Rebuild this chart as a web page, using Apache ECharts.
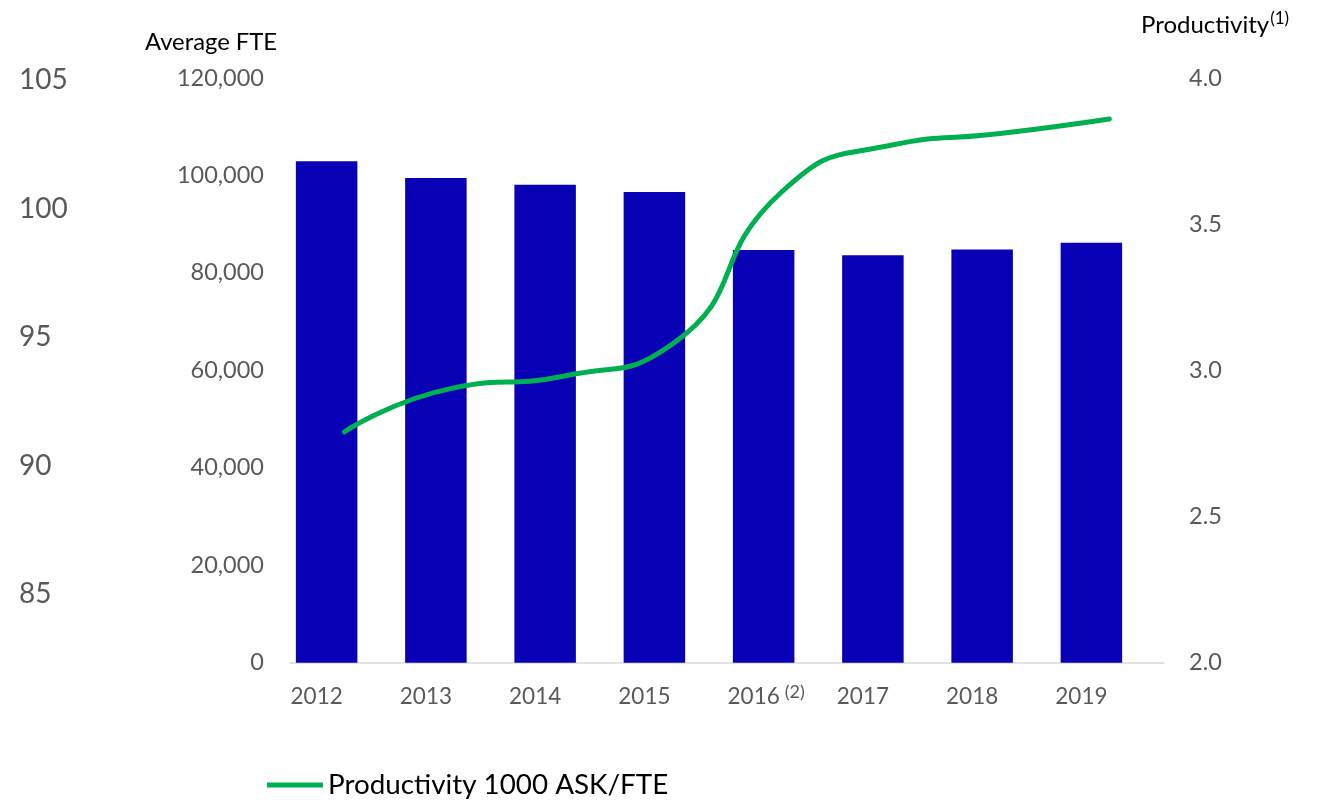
<!DOCTYPE html>
<html>
<head>
<meta charset="utf-8">
<script src="https://cdn.jsdelivr.net/npm/echarts@6/dist/echarts.min.js"></script>
<style>
  html, body { margin: 0; padding: 0; background: #fff; }
  #chart { width: 1321px; height: 800px; }
</style>
</head>
<body>
<div id="chart"></div>
<script>
// Years on the category axis (2016 carries footnote (2))
const years = ['2012', '2013', '2014', '2015', '2016', '2017', '2018', '2019'];
const footnoteYear = '2016';
// Average FTE per year (bars, left axis)
const averageFTE = [102900, 99500, 98100, 96600, 84700, 83600, 84800, 86200];
// Productivity, thousand ASK per FTE (line, right axis)
const productivity = [2.79, 2.94, 2.98, 3.09, 3.61, 3.77, 3.81, 3.86];
// Separate index scale shown at the far left
const indexTicks = [85, 90, 95, 100, 105];

const FONT = 'Lato, "Open Sans", sans-serif';
const GRAY = '#595959';
const BAR = '#0700B5';
const GREEN = '#00B050';

const chart = echarts.init(document.getElementById('chart'));

chart.setOption({
  animation: false,
  textStyle: { fontFamily: FONT },
  grid: [
    { left: 290, right: 157, top: 78, bottom: 137.3 },
    { left: 69, width: 1, top: 80, height: 514 }
  ],
  legend: {
    data: ['Productivity 1000 ASK/FTE'],
    left: 262, top: 766,
    itemWidth: 56, itemHeight: 14, itemGap: 10,
    icon: 'path://M0,0 L56,0 L56,5 L0,5 Z',
    textStyle: { fontFamily: FONT, fontSize: 27.8, color: '#000' }
  },
  xAxis: [
    {
      type: 'category', gridIndex: 0, data: years,
      axisLine: { lineStyle: { color: '#D9D9D9', width: 1.5 } },
      axisTick: { show: false },
      axisLabel: {
        interval: 0,
        margin: 20,
        formatter: function (v) {
          if (v === footnoteYear) return '{t|' + v + '}{s|(2)}{sp2| }';
          return '{t|' + v + '}{sp| }';
        },
        rich: {
          t: { fontFamily: FONT, fontSize: 22.5, color: GRAY, lineHeight: 28 },
          s: { fontFamily: FONT, fontSize: 18, color: GRAY, width: 30, lineHeight: 8, verticalAlign: 'top', padding: [0, 0, 0, 0] },
          sp: { width: 56, lineHeight: 28 },
          sp2: { width: 26, lineHeight: 28 }
        }
      }
    },
    { type: 'value', gridIndex: 1, show: false }
  ],
  yAxis: [
    {
      type: 'value', gridIndex: 0, position: 'left',
      min: 0, max: 120000, interval: 20000,
      axisLine: { show: false }, axisTick: { show: false },
      splitLine: { show: false },
      axisLabel: { margin: 26, fontSize: 23.5, color: GRAY, fontFamily: FONT }
    },
    {
      type: 'value', gridIndex: 0, position: 'right',
      min: 2, max: 4, interval: 0.5,
      axisLine: { show: false }, axisTick: { show: false },
      splitLine: { show: false },
      axisLabel: {
        margin: 25, fontSize: 23.5, color: GRAY, fontFamily: FONT,
        formatter: v => v.toFixed(1)
      }
    },
    {
      type: 'value', gridIndex: 1, position: 'left',
      min: indexTicks[0], max: indexTicks[indexTicks.length - 1], interval: 5,
      axisLine: { show: false }, axisTick: { show: false },
      splitLine: { show: false },
      axisLabel: { margin: 50, align: 'left', fontSize: 28, color: GRAY, fontFamily: FONT }
    }
  ],
  graphic: [
    {
      type: 'text', left: 145, top: 30,
      style: { text: 'Average FTE', fontFamily: FONT, fontSize: 23.8, fill: '#000' }
    },
    {
      type: 'text', left: 1141, top: 10,
      style: {
        text: '{a|Productivity}{b|(1)}',
        rich: {
          a: { fontFamily: FONT, fontSize: 24, fill: '#000', color: '#000', lineHeight: 30 },
          b: { fontFamily: FONT, fontSize: 17, fill: '#000', color: '#000', lineHeight: 8, verticalAlign: 'top', padding: [0, 0, 0, 1] }
        }
      }
    }
  ],
  series: [
    {
      name: 'Average FTE', type: 'bar', xAxisIndex: 0, yAxisIndex: 0,
      data: averageFTE, barWidth: 61.5, barGap: '-41.5%',
      itemStyle: { color: BAR }
    },
    {
      name: 'spacer', type: 'bar', xAxisIndex: 0, yAxisIndex: 0,
      data: years.map(() => null), barWidth: 61.5,
      itemStyle: { color: 'transparent' }, silent: true
    },
    {
      name: 'Productivity 1000 ASK/FTE', type: 'line', xAxisIndex: 0, yAxisIndex: 1,
      data: productivity, smooth: 0.55, symbol: 'none', z: 5,
      lineStyle: { color: GREEN, width: 5, cap: 'round' },
      itemStyle: { color: GREEN }
    }
  ]
});
</script>
</body>
</html>
